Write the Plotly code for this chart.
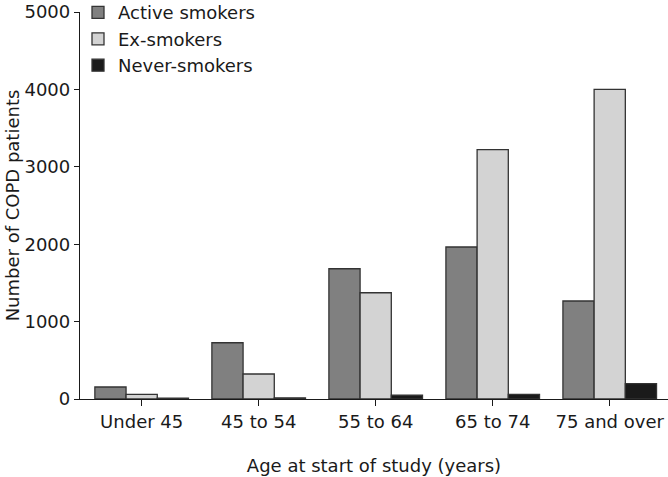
import plotly.graph_objects as go

categories = ["Under 45", "45 to 54", "55 to 64", "65 to 74", "75 and over"]
active_smokers = [155, 727, 1683, 1964, 1266]
ex_smokers = [60, 323, 1373, 3221, 4000]
never_smokers = [10, 15, 50, 60, 198]
y_ticks = [0, 1000, 2000, 3000, 4000, 5000]

FONT = "DejaVu Sans"
fig = go.Figure()
for name, vals, color in [
    ("Active smokers", active_smokers, "#808080"),
    ("Ex-smokers", ex_smokers, "#d3d3d3"),
    ("Never-smokers", never_smokers, "#1a1a1a"),
]:
    fig.add_trace(go.Bar(
        x=categories, y=vals, name=name,
        marker=dict(color=color, line=dict(color="#333333", width=1.3)),
    ))

fig.update_layout(
    width=668, height=477,
    margin=dict(l=80, r=0, t=12, b=78, autoexpand=False),
    paper_bgcolor="white", plot_bgcolor="white",
    barmode="group", bargap=0.2, bargroupgap=0,
    font=dict(family=FONT, size=18, color="#1a1a1a"),
    showlegend=True,
    legend=dict(x=-0.0034, y=1.046, xanchor="left", yanchor="top",
                bgcolor="rgba(0,0,0,0)", font=dict(size=18),
                tracegroupgap=0, itemwidth=30),
    xaxis=dict(
        type="category", range=[-0.527, 4.498],
        showline=True, linecolor="#1a1a1a", linewidth=1.3,
        ticks="outside", ticklen=6, tickcolor="#1a1a1a", tickwidth=1.3,
        showgrid=False, zeroline=False, automargin=False,
        title=dict(text="Age at start of study (years)", standoff=28, font=dict(size=18)),
        tickfont=dict(size=18),
    ),
    yaxis=dict(
        range=[0, 5000], tickvals=y_ticks,
        showline=True, linecolor="#1a1a1a", linewidth=1.3,
        ticks="outside", ticklen=5, tickcolor="#1a1a1a", tickwidth=1.3,
        showgrid=False, zeroline=False, automargin=False,
        title=dict(text="Number of COPD patients", standoff=0, font=dict(size=18)),
        tickfont=dict(size=18),
    ),
)

fig.write_html("out.html", config={"displayModeBar": False},
               post_script="document.body.style.margin='0';")
